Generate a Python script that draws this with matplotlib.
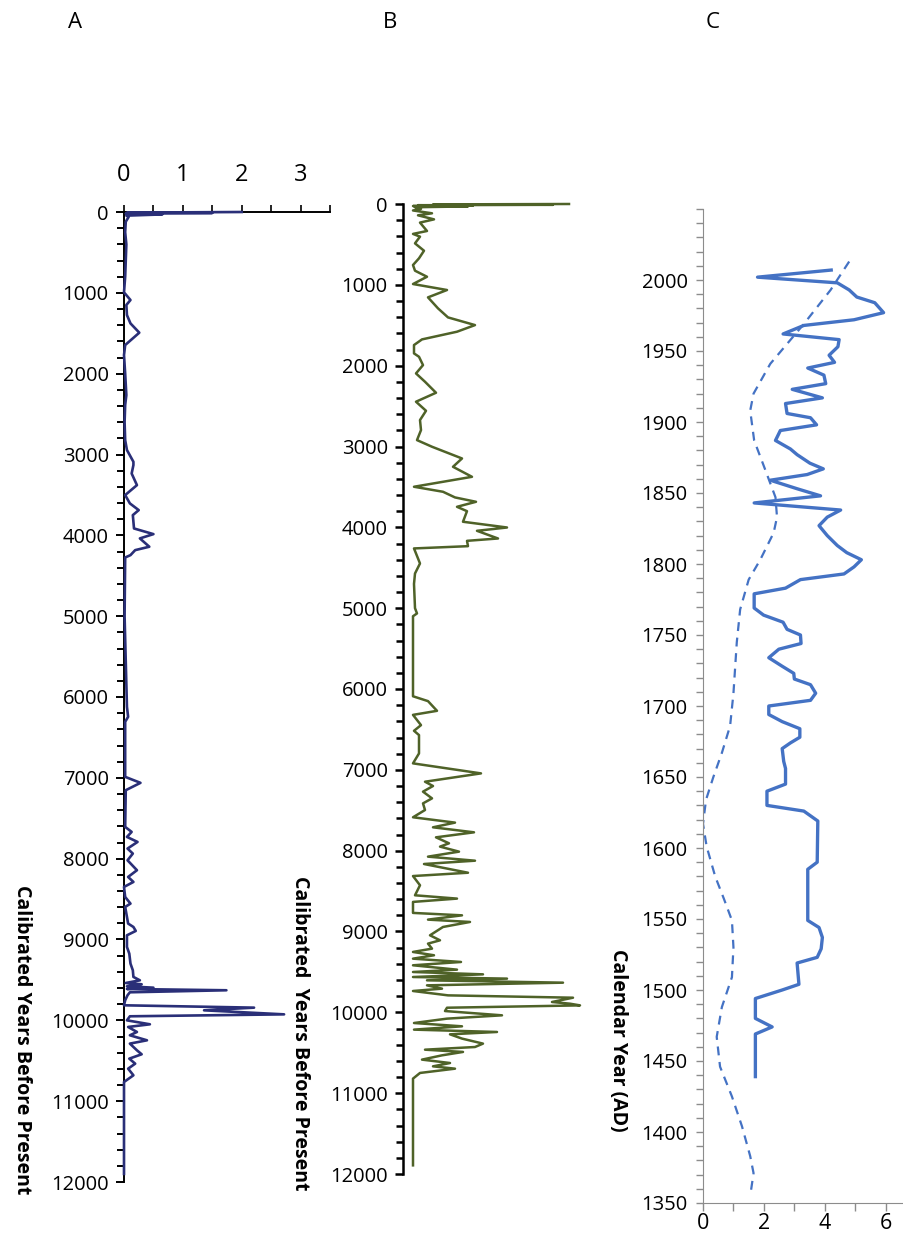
import numpy as np
import matplotlib
matplotlib.use('Agg')
import matplotlib.pyplot as plt
from matplotlib.ticker import MultipleLocator

plt.rcParams['font.family'] = ['Open Sans', 'DejaVu Sans']

# --- A : charcoal record (calibrated years BP vs. value) ---
a_year = [0, 8, 12, 20, 30, 45, 60, 120, 250, 400, 600, 800, 994, 1089, 1150, 1275,
          1378, 1493, 1646, 1770, 2000, 2265, 2388, 2600, 2822, 2945, 3090, 3131,
          3235, 3379, 3502, 3605, 3688, 3750, 3915, 3985, 4038, 4141, 4183, 4245,
          4274, 5000, 6122, 6245, 6307, 6988, 7062, 7153, 7607, 7669, 7731, 7793,
          7875, 7937, 8020, 8143, 8226, 8288, 8350, 8474, 8556, 8597, 8803, 8845,
          8894, 8948, 9092, 9175, 9298, 9381, 9463, 9505, 9538, 9554, 9579, 9596,
          9612, 9628, 9653, 9690, 9752, 9814, 9843, 9876, 9926, 9950, 10000,
          10049, 10082, 10144, 10185, 10247, 10288, 10371, 10420, 10474, 10536,
          10598, 10680, 10763, 11000, 11900]
a_val = [2.0, 0.05, 1.5, 0.03, 0.65, 0.04, 0.08, 0.03, 0.02, 0.04, 0.03, 0.02, 0.0,
         0.11, 0.04, 0.05, 0.11, 0.26, 0.02, 0.0, 0.02, 0.04, 0.02, 0.01, 0.02,
         0.05, 0.16, 0.16, 0.13, 0.22, 0.02, 0.1, 0.25, 0.15, 0.17, 0.5, 0.27,
         0.43, 0.19, 0.11, 0.02, 0.01, 0.05, 0.07, 0.02, 0.02, 0.28, 0.03, 0.02,
         0.13, 0.05, 0.23, 0.06, 0.15, 0.06, 0.22, 0.07, 0.16, 0.0, 0.02, 0.11,
         0.02, 0.07, 0.16, 0.2, 0.05, 0.05, 0.09, 0.11, 0.15, 0.16, 0.27, 0.03,
         0.3, 0.05, 0.5, 0.05, 1.74, 0.1, 0.06, 0.02, 0.0, 2.21, 1.36, 2.72, 0.1,
         0.05, 0.44, 0.07, 0.22, 0.1, 0.39, 0.1, 0.22, 0.3, 0.09, 0.19, 0.07, 0.16,
         0.0, 0.0, 0.0]

# --- B : second record (calibrated years BP vs. concentration) ---
b_year = [0, 5, 10, 15, 20, 25, 30, 40, 60, 80, 115, 140, 190, 230, 334, 370, 404,
          487, 578, 672, 755, 825, 900, 990, 1064, 1155, 1291, 1403, 1498, 1580,
          1675, 1745, 1848, 1890, 1993, 2096, 2199, 2335, 2446, 2558, 2673, 2797,
          2921, 3003, 3148, 3251, 3375, 3498, 3560, 3630, 3684, 3746, 3800, 3931,
          4002, 4043, 4138, 4167, 4233, 4261, 4447, 4571, 4700, 5000, 5065, 5100,
          6090, 6150, 6270, 6320, 6447, 6517, 6570, 6797, 6920, 7044, 7147, 7200,
          7270, 7353, 7415, 7497, 7587, 7653, 7711, 7773, 7835, 7909, 7950, 8012,
          8074, 8124, 8165, 8273, 8314, 8428, 8552, 8593, 8634, 8770, 8800, 8853,
          8882, 8944, 9047, 9109, 9150, 9212, 9253, 9294, 9336, 9377, 9418, 9472,
          9501, 9530, 9563, 9583, 9604, 9633, 9666, 9707, 9736, 9790, 9819, 9872,
          9893, 9914, 9943, 9984, 10037, 10078, 10132, 10173, 10214, 10243, 10272,
          10325, 10387, 10429, 10462, 10490, 10532, 10585, 10627, 10668, 10697,
          10750, 10820, 11893]
b_val = [15.6, 2.0, 14.0, 0.5, 6.0, 0.0, 5.5, 0.2, 0.8, 0.0, 1.9, 0.5, 2.1, 0.7,
         1.4, 0.0, 0.7, 0.2, 1.1, 0.6, 0.0, 0.2, 1.4, 0.0, 3.4, 1.5, 2.5, 3.5, 6.2,
         4.4, 0.9, 0.1, 0.1, 0.6, 1.0, 0.3, 1.2, 2.3, 0.3, 1.3, 0.7, 0.8, 0.4, 1.9,
         4.9, 4.0, 5.9, 0.1, 3.0, 4.2, 6.3, 4.4, 5.4, 5.0, 9.4, 6.4, 8.5, 5.4, 5.5,
         0.1, 0.7, 0.2, 0.1, 0.2, 0.4, 0.0, 0.0, 1.5, 2.4, 0.0, 0.8, 0.1, 0.6, 0.6,
         0.0, 6.8, 1.2, 2.0, 1.0, 1.9, 1.0, 1.2, 0.0, 4.2, 2.0, 6.1, 2.3, 3.6, 2.7,
         4.6, 1.5, 6.2, 1.1, 5.5, 0.0, 0.7, 0.2, 4.4, 0.0, 0.0, 4.9, 1.5, 5.7, 3.0,
         1.7, 2.7, 1.5, 1.9, 0.0, 2.1, 0.0, 4.8, 0.0, 4.4, 0.0, 7.0, 0.0, 9.4, 1.4,
         15.0, 1.4, 2.9, 0.0, 3.5, 16.0, 13.9, 15.7, 16.7, 3.4, 3.2, 8.9, 3.4, 0.1,
         4.9, 0.1, 8.4, 3.7, 4.9, 7.0, 6.2, 1.2, 5.0, 2.9, 0.9, 3.7, 2.0, 4.2, 0.7,
         0.0, 0.0]

# --- C : calendar years AD, measured series and smoothed trend ---
c_year = [2007, 2002, 1998, 1993, 1988, 1984, 1977, 1972, 1968, 1962, 1958, 1953,
          1947, 1942, 1938, 1933, 1927, 1923, 1917, 1913, 1906, 1903, 1898, 1894,
          1887, 1881, 1877, 1871, 1867, 1863, 1859, 1853, 1848, 1843, 1838, 1833,
          1827, 1820, 1813, 1808, 1803, 1798, 1793, 1789, 1783, 1779, 1769, 1764,
          1759, 1754, 1750, 1744, 1740, 1734, 1728, 1723, 1719, 1715, 1709, 1704,
          1700, 1694, 1689, 1684, 1678, 1674, 1670, 1661, 1656, 1645, 1640, 1630,
          1626, 1619, 1590, 1585, 1549, 1544, 1537, 1529, 1523, 1519, 1504, 1500,
          1494, 1480, 1474, 1469, 1439]
c_val = [4.21, 1.79, 4.41, 4.80, 5.05, 5.64, 5.93, 4.96, 3.31, 2.63, 4.47, 4.43,
         4.14, 4.32, 3.44, 3.97, 4.03, 2.93, 3.92, 2.71, 2.76, 3.53, 3.73, 2.54,
         2.38, 2.87, 3.09, 3.51, 3.95, 3.42, 2.21, 3.09, 3.86, 1.68, 4.52, 4.08,
         3.81, 4.08, 4.41, 4.72, 5.20, 4.96, 4.63, 3.20, 2.71, 1.68, 1.68, 1.99,
         2.63, 2.76, 3.20, 3.22, 2.49, 2.16, 2.60, 2.98, 3.00, 3.53, 3.70, 3.53,
         2.16, 2.16, 2.60, 3.18, 3.18, 2.87, 2.60, 2.65, 2.71, 2.71, 2.10, 2.10,
         3.31, 3.77, 3.75, 3.44, 3.44, 3.81, 3.92, 3.88, 3.75, 3.09, 3.15, 2.60,
         1.72, 1.72, 2.27, 1.72, 1.72]
trend_year = [2013, 1993, 1969, 1941, 1920, 1908, 1887, 1866, 1847, 1833, 1822,
              1803, 1789, 1768, 1745, 1709, 1686, 1667, 1650, 1634, 1617, 1601,
              1580, 1564, 1549, 1530, 1509, 1488, 1467, 1446, 1425, 1404, 1383,
              1371, 1355]
trend_val = [4.80, 4.19, 3.31, 2.21, 1.66, 1.55, 1.68, 2.05, 2.38, 2.43, 2.32,
             1.88, 1.50, 1.22, 1.11, 1.00, 0.89, 0.62, 0.34, 0.10, 0.0, 0.12, 0.40,
             0.69, 0.95, 1.00, 0.95, 0.62, 0.45, 0.56, 0.95, 1.28, 1.55, 1.66, 1.55]

W, H = 904, 1239
fig = plt.figure(figsize=(W / 100, H / 100), dpi=100)


def box(x0, y0, x1, y1):
    # pixel box -> figure fraction rect
    return [x0 / W, 1 - y1 / H, (x1 - x0) / W, (y1 - y0) / H]


def year_axis(ax, col='black'):
    ax.set_ylim(12000, 0)
    ax.yaxis.set_major_locator(MultipleLocator(1000))
    ax.yaxis.set_minor_locator(MultipleLocator(200))
    ax.tick_params(axis='y', which='major', length=6, width=1.4, labelsize=14.5, pad=5, color=col)
    ax.tick_params(axis='y', which='minor', length=5, width=1.4, color=col)


# panel A
axA = fig.add_axes(box(124, 212, 330, 1182))
axA.plot(a_val, a_year, color='#2a2f78', lw=1.9, zorder=3, clip_on=False)
year_axis(axA)
axA.set_xlim(0, 3.5)
axA.xaxis.tick_top()
axA.set_xticks([0, 1, 2, 3])
axA.xaxis.set_minor_locator(MultipleLocator(0.5))
axA.tick_params(axis='x', which='major', length=5, width=1.2, labelsize=17, pad=13)
axA.tick_params(axis='x', which='minor', length=5, width=1.2)
for s in ['right', 'bottom']:
    axA.spines[s].set_visible(False)
for s in ['left', 'top']:
    axA.spines[s].set_linewidth(1.4)

# panel B
axB = fig.add_axes(box(403, 204, 593, 1174))
axB.plot(b_val, b_year, color='#4f6228', lw=1.8, zorder=3, clip_on=False)
year_axis(axB)
axB.set_xlim(-1, 18)
axB.xaxis.set_visible(False)
for s in ['right', 'bottom', 'top']:
    axB.spines[s].set_visible(False)
axB.spines['left'].set_linewidth(1.8)
axB.tick_params(axis='y', which='both', width=1.8)

# panel C
axC = fig.add_axes(box(703, 209, 904, 1203))
axC.plot(c_val, c_year, color='#4472c4', lw=2.4)
axC.plot(trend_val, trend_year, color='#4472c4', lw=1.6, dashes=(4, 3))
axC.set_ylim(1350, 2050)
axC.set_xlim(0, 6.6)
axC.set_yticks(np.arange(1350, 2001, 50))
axC.yaxis.set_minor_locator(MultipleLocator(10))
axC.set_xticks([0, 2, 4, 6])
axC.xaxis.set_minor_locator(MultipleLocator(1))
grey = '#8c8c8c'
for s in ['right', 'top']:
    axC.spines[s].set_visible(False)
for s in ['left', 'bottom']:
    axC.spines[s].set_color(grey)
axC.tick_params(axis='y', which='both', length=5, width=1, color=grey, labelsize=14.5, pad=6)
axC.tick_params(axis='x', which='both', length=6, width=1, color=grey, labelsize=15.5, pad=1)

# titles / axis labels
lab = dict(rotation=270, ha='center', va='center', fontsize=14, fontweight='bold')
fig.text(22 / W, 1 - 1040 / H, 'Calibrated Years Before Present', **lab)
fig.text(300 / W, 1 - 1033 / H, 'Calibrated  Years Before Present', **lab)
fig.text(618 / W, 1 - 1040 / H, 'Calendar Year (AD)', **lab)
for x, t in [(75, 'A'), (390, 'B'), (713, 'C')]:
    fig.text(x / W, 1 - 22 / H, t, ha='center', va='center', fontsize=16)

fig.savefig('out.png', dpi=100)
